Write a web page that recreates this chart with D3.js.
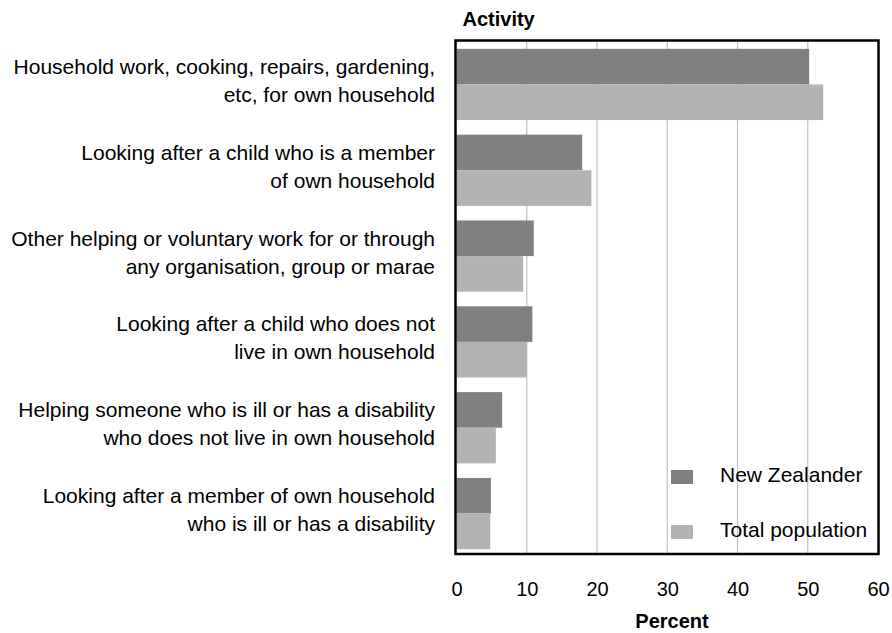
<!DOCTYPE html>
<html>
<head>
<meta charset="utf-8">
<script src="https://cdn.jsdelivr.net/npm/d3@7"></script>
<style>
  body { margin: 0; background: #fff; }
  svg { display: block; }
  text { font-family: "Liberation Sans", Arial, sans-serif; fill: #000; }
</style>
</head>
<body>
<svg id="chart" width="892" height="633"></svg>
<script>
const categories = [
  ["Household work, cooking, repairs, gardening,", "etc, for own household"],
  ["Looking after a child who is a member", "of own household"],
  ["Other helping or voluntary work for or through", "any organisation, group or marae"],
  ["Looking after a child who does not", "live in own household"],
  ["Helping someone who is ill or has a disability", "who does not live in own household"],
  ["Looking after a member of own household", "who is ill or has a disability"]
];
const seriesNames = ["New Zealander", "Total population"];
const newZealander = [50.2, 17.9, 11.0, 10.8, 6.5, 4.9];
const totalPopulation = [52.2, 19.2, 9.5, 10.0, 5.6, 4.8];
const xTicks = [0, 10, 20, 30, 40, 50, 60];
const colors = ["#808080", "#b3b3b3"];

const svg = d3.select("#chart");
const frame = {left: 455.5, right: 878.5, top: 40.5, bottom: 554};

const x = d3.scaleLinear().domain([0, 60]).range([456.5, 878]);
const y = d3.scaleBand().domain(d3.range(categories.length)).range([42, 556])
  .paddingInner(0.17).paddingOuter(0.08);
const ySub = d3.scaleBand().domain([0, 1]).range([0, y.bandwidth()]);

// gridlines
svg.append("g").selectAll("line").data(xTicks.filter(t => t > 0 && t < 60)).join("line")
  .attr("x1", d => x(d)).attr("x2", d => x(d))
  .attr("y1", frame.top).attr("y2", frame.bottom)
  .attr("stroke", "#c0c0c0").attr("stroke-width", 1.2);

// bars
const seriesData = [newZealander, totalPopulation];
seriesData.forEach((vals, si) => {
  svg.append("g").selectAll("rect").data(vals).join("rect")
    .attr("x", x(0))
    .attr("y", (d, i) => y(i) + ySub(si))
    .attr("width", d => x(d) - x(0))
    .attr("height", ySub.bandwidth())
    .attr("fill", colors[si]);
});

// frame
svg.append("rect")
  .attr("x", frame.left).attr("y", frame.top)
  .attr("width", frame.right - frame.left).attr("height", frame.bottom - frame.top)
  .attr("fill", "none").attr("stroke", "#000").attr("stroke-width", 2.5);

// x axis tick labels
const xAxis = d3.axisBottom(x).tickValues(xTicks).tickSize(0).tickPadding(0).tickFormat(d3.format("d"));
const gx = svg.append("g").attr("transform", "translate(0,582)").call(xAxis);
gx.select(".domain").remove();
gx.selectAll("text").attr("font-size", 20).attr("font-family", "Liberation Sans, Arial, sans-serif")
  .attr("dy", "0.71em").attr("fill", "#000");

// category labels
const lab = svg.append("g").selectAll("text").data(categories).join("text")
  .attr("text-anchor", "end").attr("font-size", 21)
  .attr("transform", (d, i) => `translate(435, ${y(i) + y.bandwidth() / 2 - 2})`);
lab.selectAll("tspan").data(d => d).join("tspan")
  .attr("x", 0)
  .attr("y", (d, j) => j === 0 ? -8.5 : 19.5)
  .text(d => d);

// titles
svg.append("text").attr("x", 462.5).attr("y", 26).attr("font-size", 20).attr("font-weight", "bold").text("Activity");
svg.append("text").attr("x", 672).attr("y", 628).attr("text-anchor", "middle")
  .attr("font-size", 20).attr("font-weight", "bold").text("Percent");

// legend
const legY = [470, 525];
seriesNames.forEach((name, i) => {
  svg.append("rect").attr("x", 671).attr("y", legY[i]).attr("width", 22).attr("height", 14).attr("fill", colors[i]);
  svg.append("text").attr("x", 720).attr("y", legY[i] + 12).attr("font-size", 21).text(name);
});
</script>
</body>
</html>
